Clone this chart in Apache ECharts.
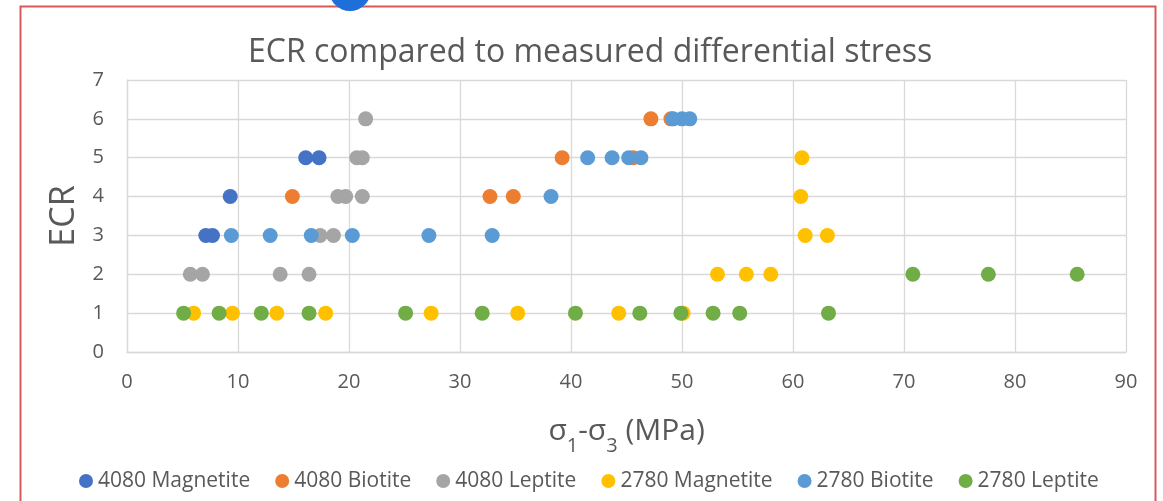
<!DOCTYPE html>
<html>
<head>
<meta charset="utf-8">
<script src="https://cdn.jsdelivr.net/npm/echarts@6/dist/echarts.min.js"></script>
<style>
  html, body { margin: 0; padding: 0; background: #fff; }
  #main { width: 1163px; height: 501px; }
</style>
</head>
<body>
<div id="main"></div>
<script>
// values: stress (MPa) and ECR
var mag4080X = [16.1, 17.3, 9.3, 7.1, 7.7];
var mag4080Y = [5, 5, 4, 3, 3];

var bio4080X = [14.9, 32.7, 34.8, 39.2, 45.6, 47.2, 49.0];
var bio4080Y = [4, 4, 4, 5, 5, 6, 6];

var lep4080X = [21.5, 20.7, 21.2, 19.0, 19.7, 21.2, 17.4, 18.6, 5.7, 6.8, 13.8, 16.4];
var lep4080Y = [6, 5, 5, 4, 4, 4, 3, 3, 2, 2, 2, 2];

var mag2780X = [6.0, 9.5, 13.5, 17.9, 27.4, 35.2, 44.3, 50.1, 53.2, 55.8, 58.0, 61.1, 63.1, 60.7, 60.8];
var mag2780Y = [1, 1, 1, 1, 1, 1, 1, 1, 2, 2, 2, 3, 3, 4, 5];

var bio2780X = [9.4, 12.9, 16.6, 20.3, 27.2, 32.9, 38.2, 41.5, 43.7, 45.2, 46.3, 49.2, 50.0, 50.7];
var bio2780Y = [3, 3, 3, 3, 3, 3, 4, 5, 5, 5, 5, 6, 6, 6];

var lep2780X = [5.1, 8.3, 12.1, 16.4, 25.1, 32.0, 40.4, 46.2, 49.9, 52.8, 55.2, 63.2, 70.8, 77.6, 85.6];
var lep2780Y = [1, 1, 1, 1, 1, 1, 1, 1, 1, 1, 1, 1, 2, 2, 2];

var seriesNames = ['4080 Magnetite', '4080 Biotite', '4080 Leptite', '2780 Magnetite', '2780 Biotite', '2780 Leptite'];
var seriesColors = ['#4472C4', '#ED7D31', '#A5A5A5', '#FFC000', '#5B9BD5', '#70AD47'];
var xs = [mag4080X, bio4080X, lep4080X, mag2780X, bio2780X, lep2780X];
var ys = [mag4080Y, bio4080Y, lep4080Y, mag2780Y, bio2780Y, lep2780Y];

function pairs(a, b) {
  var out = [];
  for (var i = 0; i < a.length; i++) out.push([a[i], b[i]]);
  return out;
}

var font = 'Open Sans';
var textColor = '#595959';
var gridColor = '#D9D9D9';

var myChart = echarts.init(document.getElementById('main'));
option = {
  animation: false,
  backgroundColor: '#fff',
  title: {
    text: 'ECR compared to measured differential stress',
    left: 248,
    top: 34,
    padding: 0,
    textStyle: { fontFamily: font, fontSize: 32, fontWeight: 'normal', color: textColor, lineHeight: 38 }
  },
  legend: {
    left: 79,
    top: 469,
    padding: 0,
    icon: 'circle',
    itemWidth: 14,
    itemHeight: 14,
    itemGap: 25,
    textStyle: { fontFamily: font, fontSize: 21, color: textColor, lineHeight: 24 },
    data: seriesNames
  },
  grid: { left: 127, right: 37, top: 80, bottom: 149 },
  xAxis: {
    type: 'value',
    min: 0,
    max: 90,
    interval: 10,
    name: '{h| }{n|σ}{s|1}{n|-σ}{s|3}{n| (MPa)}',
    nameLocation: 'middle',
    nameGap: 64,
    nameTextStyle: {
      color: textColor,
      rich: {
        h: { fontSize: 1, lineHeight: 40 },
        n: { fontFamily: font, fontSize: 30, lineHeight: 30, color: textColor, verticalAlign: 'top' },
        s: { fontFamily: font, fontSize: 20, lineHeight: 20, color: textColor, verticalAlign: 'bottom' }
      }
    },
    axisLine: { show: true, lineStyle: { color: gridColor, width: 1.3 } },
    axisTick: { show: false },
    axisLabel: { margin: 20, fontFamily: font, fontSize: 20, color: textColor },
    splitLine: { show: true, lineStyle: { color: gridColor, width: 1.3 } }
  },
  yAxis: {
    type: 'value',
    min: 0,
    max: 7,
    interval: 1,
    name: 'ECR',
    nameLocation: 'middle',
    nameGap: 46,
    nameTextStyle: { fontFamily: font, fontSize: 34, color: textColor },
    axisLine: { show: true, lineStyle: { color: gridColor, width: 1.3 } },
    axisTick: { show: false },
    axisLabel: { margin: 23, fontFamily: font, fontSize: 20, color: textColor },
    splitLine: { show: true, lineStyle: { color: gridColor, width: 1.3 } }
  },
  graphic: [
    {
      type: 'rect',
      shape: { x: 20.5, y: 6.5, width: 1135, height: 560 },
      style: { fill: 'none', stroke: '#D9585A', lineWidth: 2 },
      silent: true
    },
    {
      type: 'circle',
      shape: { cx: 350, cy: -10, r: 21 },
      style: { fill: '#1E6FD9' },
      silent: true
    }
  ],
  series: seriesNames.map(function (name, i) {
    return {
      name: name,
      type: 'scatter',
      symbol: 'circle',
      symbolSize: 15,
      itemStyle: { color: seriesColors[i], opacity: 1 },
      data: pairs(xs[i], ys[i])
    };
  })
};
myChart.setOption(option);
</script>
</body>
</html>
